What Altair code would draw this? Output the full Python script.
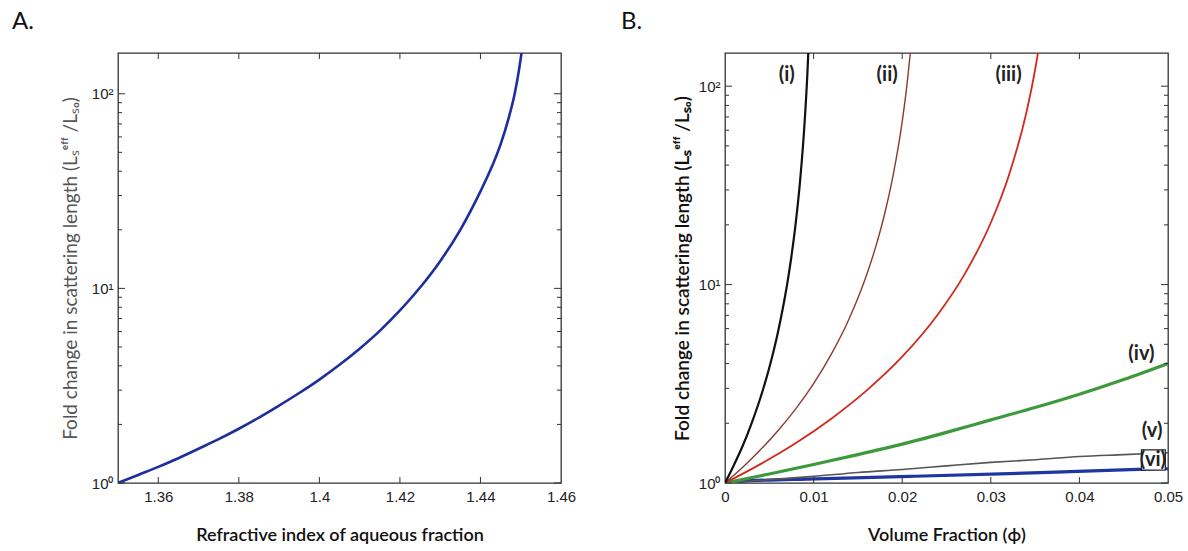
import altair as alt
import pandas as pd

# ---------------- Panel A data ----------------
ri_n = [1.35, 1.355, 1.36, 1.365, 1.37, 1.375, 1.38, 1.385, 1.39, 1.395, 1.40,
        1.405, 1.41, 1.415, 1.42, 1.425, 1.43, 1.435, 1.44, 1.443, 1.445, 1.447,
        1.4485, 1.4495, 1.4502]
ri_fold = [1.0, 1.1, 1.21, 1.34, 1.5, 1.68, 1.9, 2.17, 2.5, 2.9, 3.4,
           4.05, 4.9, 6.05, 7.7, 10.1, 13.8, 20.0, 31.5, 43.0, 55.0, 75.0,
           100.0, 130.0, 162.0]

# ---------------- Panel B data ----------------
phi_i = [0, 0.001, 0.002, 0.003, 0.004, 0.005, 0.006, 0.007, 0.0075, 0.008, 0.0085, 0.009, 0.0093, 0.0095]
fold_i = [1.0, 1.23, 1.54, 2.0, 2.69, 3.81, 5.82, 9.95, 13.9, 20.75, 34.3, 67.2, 116.0, 187.0]

phi_ii = [0, 0.002, 0.004, 0.006, 0.008, 0.010, 0.012, 0.014, 0.016, 0.017, 0.018, 0.019, 0.020, 0.0205, 0.021]
fold_ii = [1.0, 1.2, 1.47, 1.84, 2.37, 3.17, 4.46, 6.71, 11.24, 15.45, 22.56, 36.0, 66.3, 98.3, 160.4]

phi_iii = [0, 0.004, 0.008, 0.012, 0.016, 0.020, 0.024, 0.027, 0.030, 0.032, 0.034, 0.035, 0.0356]
fold_iii = [1.0, 1.245, 1.59, 2.11, 2.93, 4.33, 7.05, 11.2, 20.5, 35.1, 73.2, 121.0, 176.0]

phi_iv = [0, 0.005, 0.01, 0.015, 0.02, 0.025, 0.03, 0.035, 0.04, 0.045, 0.05]
fold_iv = [1.0, 1.11, 1.24, 1.39, 1.57, 1.8, 2.08, 2.4, 2.8, 3.32, 4.0]

phi_v = [0, 0.005, 0.01, 0.015, 0.02, 0.025, 0.03, 0.035, 0.04, 0.045, 0.05]
fold_v = [1.0, 1.04, 1.08, 1.13, 1.17, 1.22, 1.27, 1.31, 1.36, 1.39, 1.42]

phi_vi = [0, 0.0017, 0.0103, 0.0208, 0.0365, 0.0466, 0.05]
fold_vi = [1.0, 1.02, 1.05, 1.08, 1.13, 1.17, 1.18]

series_names = ["(vi)", "(v)", "(iv)", "(iii)", "(ii)", "(i)"]
series_phi = [phi_vi, phi_v, phi_iv, phi_iii, phi_ii, phi_i]
series_fold = [fold_vi, fold_v, fold_iv, fold_iii, fold_ii, fold_i]
series_colors = ["#1f35a0", "#555555", "#3c9a3c", "#d02a1c", "#8a3a30", "#111111"]
series_widths = [3.2, 1.6, 3.2, 1.8, 1.4, 2.2]

# annotation labels (panel B)
lab_text = ["(i)", "(ii)", "(iii)", "(iv)", "(v)", "(vi)"]
lab_phi = [0.00697, 0.0183, 0.0320, 0.0470, 0.0482, 0.0483]
lab_fold = [113.6, 113.6, 113.6, 4.45, 1.83, 1.31]
# frame drawn around the "(vi)" label
box_phi = [0.0470]
box_phi2 = [0.0497]
box_fold = [1.163]
box_fold2 = [1.47]

# ticks
y_major = [1, 10, 100]
y_minor = [2, 3, 4, 5, 6, 7, 8, 9, 20, 30, 40, 50, 60, 70, 80, 90]
xA_ticks = [1.36, 1.38, 1.40, 1.42, 1.44, 1.46]
xB_ticks = [0, 0.01, 0.02, 0.03, 0.04, 0.05]

W_A, W_B, H = 443, 443, 430
TICK_C = "#333333"

label_expr = "datum.value == 1 ? '10\u2070' : datum.value == 10 ? '10\u00b9' : '10\u00b2'"

ytitle = "Fold change in scattering length (L\u209b\u1d49\u1da0\u1da0 /L\u209b\u2092)"


def y_axis(title, color, weight, tpad):
    return alt.Axis(values=y_major, labelExpr=label_expr, ticks=False, tickSize=0,
                    domain=False, grid=False, labelFont="Liberation Sans",
                    labelFontSize=15, labelColor="#222", labelPadding=5,
                    labelFlush=False, title=title, titleFont="Lato",
                    titleFontSize=19, titleColor=color, titleFontWeight=weight,
                    titlePadding=tpad)


def x_axis(title, vals):
    return alt.Axis(values=vals, format=".2~f", ticks=False, tickSize=0,
                    domain=False, grid=False, labelFont="Liberation Sans",
                    labelFontSize=15, labelColor="#222", labelPadding=6,
                    labelFlush=False, title=title, titleFont="Lato",
                    titleFontSize=18, titleColor="#111", titleFontWeight=600,
                    titlePadding=22)


def tick_layers(x_vals, xs, ys, xax, yax, w, h):
    layers = []
    for vals, L in [(y_major, 7), (y_minor, 4)]:
        df = pd.DataFrame({"v": vals})
        layers.append(alt.Chart(df).mark_rule(color=TICK_C, strokeWidth=1).encode(
            y=alt.Y("v:Q", scale=ys, axis=yax), x=alt.value(0), x2=alt.value(L)))
        layers.append(alt.Chart(df).mark_rule(color=TICK_C, strokeWidth=1).encode(
            y=alt.Y("v:Q", scale=ys, axis=yax), x=alt.value(w), x2=alt.value(w - L)))
    dfx = pd.DataFrame({"v": x_vals})
    layers.append(alt.Chart(dfx).mark_rule(color=TICK_C, strokeWidth=1).encode(
        x=alt.X("v:Q", scale=xs, axis=xax), y=alt.value(h), y2=alt.value(h - 6)))
    layers.append(alt.Chart(dfx).mark_rule(color=TICK_C, strokeWidth=1).encode(
        x=alt.X("v:Q", scale=xs, axis=xax), y=alt.value(0), y2=alt.value(6)))
    return layers


# ---------------- Panel A ----------------
xA = alt.Scale(domain=[1.35, 1.46], nice=False, zero=False)
yA = alt.Scale(type="log", domain=[1, 162], nice=False)
xaxA = x_axis("Refractive index of aqueous fraction", xA_ticks)
yaxA = y_axis(ytitle, "#555", "normal", 11)

dfA = pd.DataFrame({"n": ri_n, "fold": ri_fold})
lineA = alt.Chart(dfA).mark_line(color="#1c2f9c", strokeWidth=2.6, clip=True,
                                 interpolate="monotone").encode(
    x=alt.X("n:Q", scale=xA, axis=xaxA),
    y=alt.Y("fold:Q", scale=yA, axis=yaxA),
)
tagA = alt.Chart(pd.DataFrame({"t": ["A."]})).mark_text(
    font="Lato", fontSize=24, color="#111", align="left", baseline="middle"
).encode(text="t:N", x=alt.value(-106), y=alt.value(-31))

panelA = alt.layer(lineA, *tick_layers(xA_ticks[:-1], xA, yA, xaxA, yaxA, W_A, H), tagA).properties(
    width=W_A, height=H)

# ---------------- Panel B ----------------
xB = alt.Scale(domain=[0, 0.05], nice=False, zero=False)
yB = alt.Scale(type="log", domain=[1, 147], nice=False)
xaxB = x_axis("Volume Fraction (\u03d5)", xB_ticks)
yaxB = y_axis(ytitle, "#111", 600, 6)

b_layers = []
for nm, ph, fd, col, sw in zip(series_names, series_phi, series_fold,
                               series_colors, series_widths):
    df = pd.DataFrame({"phi": ph, "fold": fd})
    b_layers.append(alt.Chart(df).mark_line(color=col, strokeWidth=sw, clip=True,
                                            interpolate="monotone").encode(
        x=alt.X("phi:Q", scale=xB, axis=xaxB),
        y=alt.Y("fold:Q", scale=yB, axis=yaxB)))

dfBox = pd.DataFrame({"x1": box_phi, "x2": box_phi2, "y1": box_fold, "y2": box_fold2})
box = alt.Chart(dfBox).mark_rect(fill="white", stroke="#222", strokeWidth=1.2).encode(
    x=alt.X("x1:Q", scale=xB, axis=xaxB), x2="x2:Q",
    y=alt.Y("y1:Q", scale=yB, axis=yaxB), y2="y2:Q")

dfLab = pd.DataFrame({"t": lab_text, "phi": lab_phi, "fold": lab_fold})
labels = alt.Chart(dfLab).mark_text(
    font="Lato", fontSize=20, fontWeight="bold", color="#222", align="center", baseline="middle"
).encode(x=alt.X("phi:Q", scale=xB, axis=xaxB), y=alt.Y("fold:Q", scale=yB, axis=yaxB), text="t:N")

tagB = alt.Chart(pd.DataFrame({"t": ["B."]})).mark_text(
    font="Lato", fontSize=24, color="#111", align="left", baseline="middle"
).encode(text="t:N", x=alt.value(-104), y=alt.value(-31))

panelB = alt.layer(*b_layers, box, labels,
                   *tick_layers(xB_ticks[1:-1], xB, yB, xaxB, yaxB, W_B, H), tagB).properties(
    width=W_B, height=H)

chart = alt.hconcat(panelA, panelB, spacing=43).configure_view(
    stroke="#333", strokeWidth=1.3
).properties(
    padding={"left": 11, "top": 9, "right": 2, "bottom": 2},
    background="white",
)

chart.save("out.html", embed_options={"renderer": "svg", "actions": False})
